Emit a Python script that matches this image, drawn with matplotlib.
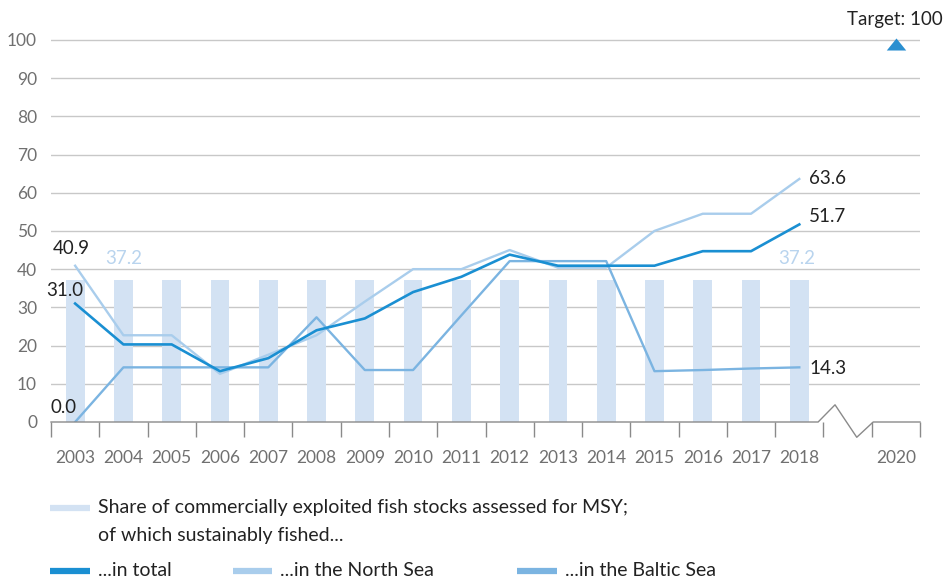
import matplotlib
matplotlib.use("Agg")
import matplotlib.pyplot as plt
from matplotlib.lines import Line2D
import numpy as np

plt.rcParams['font.family'] = ['Lato', 'DejaVu Sans']

years = ["2003", "2004", "2005", "2006", "2007", "2008", "2009", "2010",
         "2011", "2012", "2013", "2014", "2015", "2016", "2017", "2018"]
target_year = "2020"
share_assessed = [37.2] * 16
total = [31.0, 20.3, 20.3, 13.3, 16.7, 24.0, 27.1, 34.0, 38.0, 43.8,
         40.9, 40.9, 40.9, 44.7, 44.7, 51.7]
north_sea = [40.9, 22.7, 22.7, 12.6, 17.6, 22.7, 31.5, 40.0, 40.0, 45.0,
             40.4, 40.4, 50.0, 54.5, 54.5, 63.6]
baltic_sea = [0.0, 14.3, 14.3, 14.3, 14.3, 27.4, 13.6, 13.6, 27.9, 42.1,
              42.1, 42.1, 13.3, 13.6, 14.0, 14.3]
target_value = 100
yticks = [0, 10, 20, 30, 40, 50, 60, 70, 80, 90, 100]

C_BAR = "#d3e2f3"
C_TOTAL = "#1a8fd2"
C_NORTH = "#a9cdec"
C_BALTIC = "#7bb4e1"
C_TXT = "#222222"
C_TICK = "#707070"

W, H = 945, 580
fig = plt.figure(figsize=(W / 100, H / 100), dpi=100)
ax_left, ax_right = 51 / W, 920 / W
ax_bottom, ax_top = 1 - 422 / H, 1 - 20 / H
ax = fig.add_axes([ax_left, ax_bottom, ax_right - ax_left, ax_top - ax_bottom])

x = np.arange(len(years))
x_target = len(years) + 1

ax.set_xlim(-0.5, x_target + 0.5)
ax.set_ylim(0, 105.2)

# gridlines
for v in yticks[1:]:
    ax.axhline(v, color="#c8c8c8", lw=1.0, zorder=0)

ax.bar(x, share_assessed, width=0.39, color=C_BAR, zorder=1)
ax.plot(x, north_sea, color=C_NORTH, lw=1.7, zorder=2)
ax.plot(x, baltic_sea, color=C_BALTIC, lw=1.7, zorder=3)
ax.plot(x, total, color=C_TOTAL, lw=1.9, zorder=4)

tri = [(-1.0, -0.62), (1.0, -0.62), (0.0, 0.62), (-1.0, -0.62)]
ax.plot([x_target], [target_value - 1.2], marker=tri, color="#2a8fd0",
        markersize=14, markeredgewidth=0, clip_on=False, zorder=5,
        linestyle="none")

# axis line with break
bx = [-0.5, 15.39, 15.74, 16.19, 16.53, x_target + 0.5]
by = [0, 0, 4.5, -4.0, 0, 0]
ax.plot(bx, by, color="#8a8a8a", lw=1.0, clip_on=False, zorder=6)

for s in ax.spines.values():
    s.set_visible(False)

ax.set_xticks(list(x) + [x_target])
ax.set_xticklabels(years + [target_year])
ax.set_xticks(list(np.arange(-0.5, 16, 1.0)) + [16.5, 17.5], minor=True)
ax.tick_params(axis="x", which="major", length=0, pad=20, labelsize=12.5,
               labelcolor=C_TICK)
ax.tick_params(axis="x", which="minor", length=11, width=1.0,
               color="#8a8a8a")
ax.set_yticks(yticks)
ax.tick_params(axis="y", length=0, pad=10, labelsize=12.5, labelcolor=C_TICK)

# annotations
fs = 13.5
ax.text(-0.08, 45.3, "40.9", ha="center", va="center", fontsize=fs, color=C_TXT)
ax.text(-0.22, 34.4, "31.0", ha="center", va="center", fontsize=fs, color=C_TXT)
ax.text(-0.25, 3.8, "0.0", ha="center", va="center", fontsize=fs, color=C_TXT)
ax.text(x[1], 42.8, "37.2", ha="center", va="center", fontsize=fs, color="#b9d4ee")
ax.text(x[-1] - 0.05, 42.8, "37.2", ha="center", va="center", fontsize=fs, color="#b9d4ee")
ax.text(x[-1] + 0.2, north_sea[-1], "63.6", ha="left", va="center", fontsize=fs, color=C_TXT)
ax.text(x[-1] + 0.2, total[-1] + 2.0, "51.7", ha="left", va="center", fontsize=fs, color=C_TXT)
ax.text(x[-1] + 0.2, baltic_sea[-1] - 0.2, "14.3", ha="left", va="center", fontsize=fs, color=C_TXT)

fig.text(943 / W, 1 - 20 / H, "Target: 100", ha="right", va="center",
         fontsize=13.5, color=C_TXT)

# legend
def leg_line(x0, x1, y, color, lw):
    fig.add_artist(Line2D([x0 / W, x1 / W], [1 - y / H, 1 - y / H],
                          color=color, lw=lw, solid_capstyle="butt"))

def leg_text(x0, y, s, size=14):
    fig.text(x0 / W, 1 - y / H, s, ha="left", va="center", fontsize=size,
             color=C_TXT)

leg_line(50, 90, 508, C_BAR, 4.5)
leg_text(98, 508, "Share of commercially exploited fish stocks assessed for MSY;")
leg_text(98, 535, "of which sustainably fished...")
leg_line(50, 90, 571, C_TOTAL, 4.5)
leg_text(98, 571, "...in total")
leg_line(233, 272, 571, C_NORTH, 4.5)
leg_text(280, 571, "...in the North Sea")
leg_line(517, 557, 571, C_BALTIC, 4.5)
leg_text(565, 571, "...in the Baltic Sea")

fig.savefig("out.png", dpi=100)
